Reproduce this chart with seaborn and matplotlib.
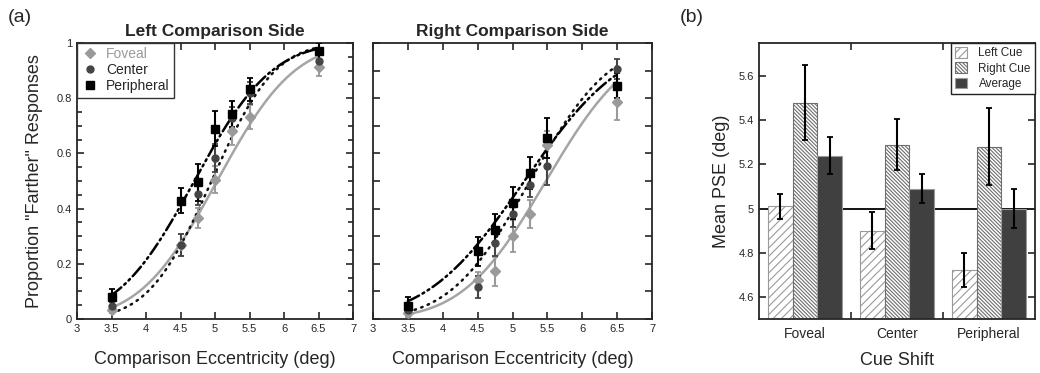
import math
import numpy as np
import pandas as pd
import matplotlib
matplotlib.use('Agg')
import matplotlib.pyplot as plt
from matplotlib.ticker import MultipleLocator, FuncFormatter
import seaborn as sns

# ---- data (panel a) ----
ecc = [3.5, 4.5, 4.75, 5.0, 5.25, 5.5, 6.5]
conds = ['Foveal', 'Center', 'Peripheral']

left_foveal = [0.034, 0.269, 0.366, 0.505, 0.680, 0.732, 0.912]
left_center = [0.046, 0.269, 0.453, 0.583, 0.728, 0.819, 0.936]
left_periph = [0.078, 0.429, 0.495, 0.690, 0.743, 0.833, 0.970]
left_foveal_err = [0.012, 0.040, 0.035, 0.050, 0.050, 0.045, 0.030]
left_center_err = [0.015, 0.040, 0.040, 0.050, 0.040, 0.040, 0.030]
left_periph_err = [0.030, 0.046, 0.066, 0.062, 0.048, 0.042, 0.030]

right_foveal = [0.022, 0.140, 0.173, 0.300, 0.380, 0.632, 0.785]
right_center = [0.031, 0.115, 0.275, 0.380, 0.487, 0.556, 0.906]
right_periph = [0.048, 0.245, 0.324, 0.420, 0.529, 0.656, 0.845]
right_foveal_err = [0.015, 0.030, 0.053, 0.057, 0.050, 0.050, 0.063]
right_center_err = [0.015, 0.040, 0.045, 0.045, 0.045, 0.070, 0.036]
right_periph_err = [0.030, 0.052, 0.057, 0.058, 0.057, 0.072, 0.045]

# cumulative-gaussian fit parameters (mean, sd)
left_fit_mu = [5.03, 4.95, 4.70]
left_fit_sd = [0.88, 0.72, 0.88]
right_fit_mu = [5.48, 5.25, 5.17]
right_fit_sd = [0.94, 0.90, 1.10]

# ---- data (panel b) ----
shifts = ['Foveal', 'Center', 'Peripheral']
cues = ['Left Cue', 'Right Cue', 'Average']
pse_left = [5.01, 4.90, 4.72]
pse_right = [5.48, 5.29, 5.28]
pse_avg = [5.24, 5.09, 5.00]
err_left = [0.057, 0.083, 0.077]
err_right = [0.170, 0.115, 0.175]
err_avg = [0.083, 0.065, 0.088]

sns.set_style('ticks')
plt.rcParams['font.family'] = ['Liberation Sans', 'DejaVu Sans']
plt.rcParams['hatch.linewidth'] = 0.8

fig = plt.figure(figsize=(10.4, 3.73), dpi=100)
ax1 = fig.add_axes([77/1040, 54/373, 276/1040, 276/373])
ax2 = fig.add_axes([373/1040, 54/373, 279/1040, 276/373])
ax3 = fig.add_axes([759/1040, 54/373, 276/1040, 276/373])

mcolors = {'Foveal': '#9a9a9a', 'Center': '#454545', 'Peripheral': '#000000'}
lcolors = {'Foveal': '#a5a5a5', 'Center': '#111111', 'Peripheral': '#000000'}
markers = {'Foveal': 'D', 'Center': 'o', 'Peripheral': 's'}
msizes = {'Foveal': 5.5, 'Center': 5, 'Peripheral': 5.5}
dashes = {'Foveal': '', 'Center': (0.6, 2.2), 'Peripheral': (5, 1.6, 0.8, 1.6, 0.8, 1.6)}


def ncdf(x, mu, sd):
    return 0.5 * (1 + math.erf((x - mu) / (sd * math.sqrt(2))))


def draw_panel(ax, means, errs, mus, sds, title, show_ylabels):
    grid = np.linspace(3.5, 6.5, 200)
    rows = []
    for c, mu, sd in zip(conds, mus, sds):
        for g in grid:
            rows.append({'x': g, 'p': ncdf(g, mu, sd), 'cond': c})
    curves = pd.DataFrame(rows)
    sns.lineplot(data=curves, x='x', y='p', hue='cond', style='cond',
                 palette=lcolors, dashes=dashes, lw=1.8, legend=False, ax=ax)
    for line in ax.get_lines():
        line.set_dash_capstyle('round')
    handles = []
    for c, m, e in zip(conds, means, errs):
        ax.errorbar(ecc, m, yerr=e, fmt='none', ecolor=mcolors[c], elinewidth=1.5,
                    capsize=2.5, capthick=1.3, zorder=3)
        h, = ax.plot(ecc, m, ls='none', marker=markers[c], ms=msizes[c],
                     color=mcolors[c], mec=mcolors[c], zorder=4, label=c)
        handles.append(h)
    ax.set_xlim(3, 7)
    ax.set_ylim(0, 1)
    ax.xaxis.set_major_locator(MultipleLocator(0.5))
    ax.yaxis.set_major_locator(MultipleLocator(0.2))
    ax.xaxis.set_major_formatter(FuncFormatter(lambda v, p: '%g' % v))
    ax.yaxis.set_major_formatter(FuncFormatter(lambda v, p: '%g' % round(v, 2)))
    ax.yaxis.set_minor_locator(MultipleLocator(0.05 if show_ylabels else 0.1))
    ax.tick_params(which='both', direction='in', top=True, right=True,
                   labelsize=8, width=1.2)
    ax.tick_params(which='major', length=5)
    ax.tick_params(which='minor', length=3.5)
    if not show_ylabels:
        ax.tick_params(axis='y', labelleft=False, length=5, which='both')
    for s in ax.spines.values():
        s.set_linewidth(1.3)
    ax.set_xlabel('Comparison Eccentricity (deg)', fontsize=13, labelpad=12)
    ax.set_ylabel('')
    ax.set_title(title, fontsize=12.5, fontweight='bold', pad=5)
    return handles


hs = draw_panel(ax1, [left_foveal, left_center, left_periph],
                [left_foveal_err, left_center_err, left_periph_err],
                left_fit_mu, left_fit_sd, 'Left Comparison Side', True)
draw_panel(ax2, [right_foveal, right_center, right_periph],
           [right_foveal_err, right_center_err, right_periph_err],
           right_fit_mu, right_fit_sd, 'Right Comparison Side', False)
ax1.set_ylabel('Proportion "Farther" Responses', fontsize=13, labelpad=10)
leg = ax1.legend(handles=hs, loc='upper left', borderaxespad=0, fancybox=False,
                 edgecolor='#333333', framealpha=1, fontsize=10, handletextpad=0.6,
                 borderpad=0.3, labelspacing=0.15, handlelength=1.2)
leg.get_frame().set_linewidth(1.0)
leg.get_texts()[0].set_color('#9a9a9a')

# ---- panel b ----
df = pd.DataFrame({
    'shift': shifts * 3,
    'cue': [cues[0]] * 3 + [cues[1]] * 3 + [cues[2]] * 3,
    'pse': pse_left + pse_right + pse_avg,
})
sns.barplot(data=df, x='shift', y='pse', hue='cue', order=shifts, hue_order=cues,
            palette=['white', 'white', '#404040'], width=0.8, errorbar=None,
            legend=False, ax=ax3)
bar_conts = list(ax3.containers)
hatches = ['////', '\\' * 9, '']
edges = ['#9a9a9a', '#6e6e6e', '#9a9a9a']
for cont, hatch, ec, errs in zip(bar_conts, hatches, edges, [err_left, err_right, err_avg]):
    xs = []
    ys = []
    for bar in cont.patches:
        bar.set_hatch(hatch)
        bar.set_edgecolor(ec)
        bar.set_linewidth(0.8)
        xs.append(bar.get_x() + bar.get_width() / 2)
        ys.append(bar.get_height())
    ax3.errorbar(xs, ys, yerr=errs, fmt='none', ecolor='black', elinewidth=1.5,
                 capsize=2.5, capthick=1.3, zorder=3)
ax3.axhline(5, color='black', lw=1.3, zorder=0.5)
ax3.set_ylim(4.5, 5.75)
ax3.set_xlim(-0.5, 2.5)
ax3.yaxis.set_major_locator(MultipleLocator(0.2))
ax3.yaxis.set_major_formatter(FuncFormatter(lambda v, p: '%g' % round(v, 2)))
ax3.set_xticks([0.5, 1.5], minor=True)
ax3.tick_params(axis='x', which='major', length=0, labelsize=10, pad=6)
ax3.tick_params(axis='x', which='minor', direction='in', top=True, length=5, width=1.2)
ax3.tick_params(axis='y', direction='in', right=True, length=5, width=1.2, labelsize=8)
for s in ax3.spines.values():
    s.set_linewidth(1.3)
ax3.set_xlabel('Cue Shift', fontsize=13, labelpad=8)
ax3.set_ylabel('Mean PSE (deg)', fontsize=13, labelpad=6)
leg3 = ax3.legend(handles=[c.patches[0] for c in bar_conts], labels=cues,
                  loc='upper right', borderaxespad=0, fancybox=False,
                  edgecolor='#222222', framealpha=1, fontsize=8.5, borderpad=0.35,
                  labelspacing=0.25, handlelength=1.0, handleheight=1.0, handletextpad=1.0)
leg3.get_frame().set_linewidth(1.0)

fig.text(8/1040, 1 - 18/373, '(a)', fontsize=14, va='center', ha='left')
fig.text(680/1040, 1 - 18/373, '(b)', fontsize=14, va='center', ha='left')

fig.savefig('out.png', dpi=100)
